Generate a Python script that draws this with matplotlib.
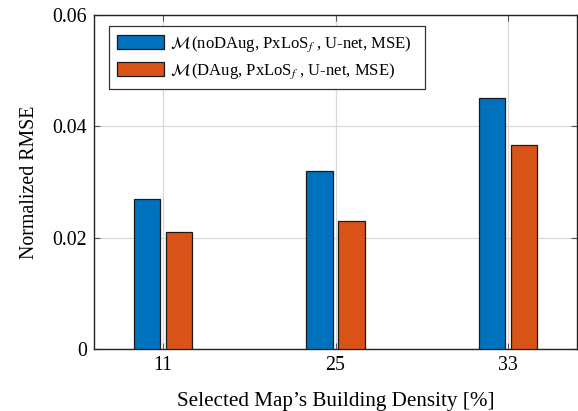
import matplotlib
matplotlib.use("Agg")
import matplotlib.pyplot as plt
import numpy as np

categories = ["11", "25", "33"]
no_daug = [0.027, 0.032, 0.045]
daug = [0.021, 0.023, 0.0367]
labels = [r"$\mathcal{M}\,$(noDAug, PxLoS$_f$ , U-net, MSE)  ",
          r"$\mathcal{M}\,$(DAug, PxLoS$_f$ , U-net, MSE)"]
yticks = [0, 0.02, 0.04, 0.06]
ytick_labels = ["0", "0.02", "0.04", "0.06"]

plt.rcParams['font.family'] = ['Liberation Serif', 'DejaVu Serif']
plt.rcParams['mathtext.fontset'] = 'stix'

fig = plt.figure(figsize=(5.78, 4.11), dpi=100)
ax = fig.add_axes([94/578, 1 - 349/411, (577-94)/578, (349-15)/411])

x = np.arange(1, len(categories) + 1)
w = 0.154
off = 0.092
ax.bar(x - off, no_daug, w, color='#0072BD', edgecolor='#1a1a1a', linewidth=0.9, label=labels[0], zorder=3)
ax.bar(x + off, daug, w, color='#D95319', edgecolor='#1a1a1a', linewidth=0.9, label=labels[1], zorder=3)

ax.set_xlim(0.6, 3.4)
ax.set_ylim(0, 0.06)
ax.set_xticks(x)
ax.set_xticklabels(categories)
ax.set_yticks(yticks)
ax.set_yticklabels(ytick_labels)
ax.tick_params(direction='in', length=4, labelsize=14.3, top=True, right=True, color='#555555', pad=5)
ax.grid(True, color='#d9d9d9', linewidth=0.9, zorder=0)
ax.set_axisbelow(True)
for s in ax.spines.values():
    s.set_linewidth(1.0)
    s.set_color('#222222')

ax.set_xlabel("Selected Map\u2019s Building Density [%]", fontsize=15.2, labelpad=12)
ax.set_ylabel("Normalized RMSE", fontsize=14.3, labelpad=10)

leg = ax.legend(loc='upper left', bbox_to_anchor=(15/483, 1 - 11/334), fontsize=12.0, frameon=True,
                fancybox=False, edgecolor='#333333', framealpha=1, handlelength=2.8,
                handleheight=0.95, borderpad=0.5, labelspacing=0.45, handletextpad=0.35,
                borderaxespad=0)
leg.get_frame().set_linewidth(0.9)

fig.savefig("out.png", dpi=100)
